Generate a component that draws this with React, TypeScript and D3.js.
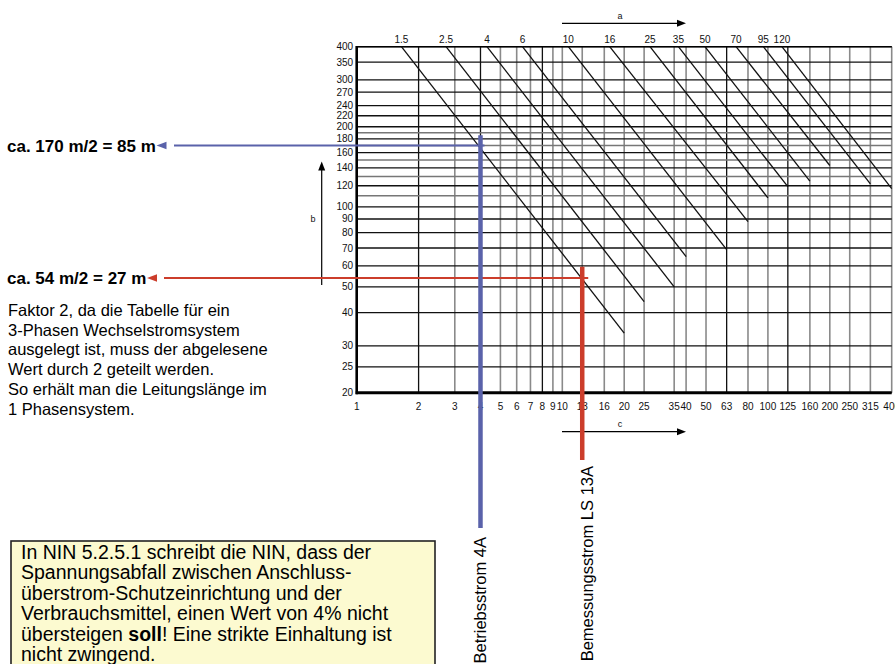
import React from "react";
import * as d3 from "d3";

// ---------- data ----------
// x axis: current (A), log scale
const xGridValues = [1, 2, 3, 4, 5, 6, 7, 8, 9, 10, 12.5, 16, 20, 25, 35, 40, 50, 63, 80, 100, 125, 160, 200, 250, 315, 400];
const xTickLabels = ["1", "2", "3", "4", "5", "6", "7", "8", "9", "10", "13", "16", "20", "25", "35", "40", "50", "63", "80", "100", "125", "160", "200", "250", "315", "400"];
const xDarkLines = [2, 4, 8, 63, 125];
// y axis: length (m), log scale
const yGridValues = [400, 350, 300, 270, 240, 220, 200, 190, 180, 170, 160, 150, 140, 130, 120, 110, 100, 90, 80, 70, 60, 50, 40, 30, 25, 20];
const yTickLabels = [400, 350, 300, 270, 240, 220, 200, 180, 160, 140, 120, 100, 90, 80, 70, 60, 50, 40, 30, 25, 20];
// cross sections (mm²) and their diagonal lines
const crossSections = ["1.5", "2.5", "4", "6", "10", "16", "25", "35", "50", "70", "95", "120"];
const lineStartCurrent = [1.65, 2.72, 4.3, 6.4, 10.7, 17, 26.7, 36.7, 49.4, 70, 95, 117];
const lineStartLength = [400, 400, 400, 400, 400, 400, 400, 400, 400, 400, 400, 400];
const lineEndCurrent = [20, 25, 35, 40, 63, 80, 100, 125, 160, 200, 315, 400];
const lineEndLength = [33.5, 44, 50, 65, 69, 88, 108, 119, 125, 143, 122, 117];
// reading example
const operatingCurrent = 4;
const operatingLength = 170;
const operatingTop = 186;
const ratedCurrent = 12.5;
const ratedLength = 54;
const ratedTop = 59.5;

const paragraph = [
  "Faktor 2, da die Tabelle für ein",
  "3-Phasen Wechselstromsystem",
  "ausgelegt ist, muss der abgelesene",
  "Wert durch 2 geteilt werden.",
  "So erhält man die Leitungslänge im",
  "1 Phasensystem.",
];
const boxLines = [
  "In NIN 5.2.5.1 schreibt die NIN, dass der",
  "Spannungsabfall zwischen Anschluss-",
  "überstrom-Schutzeinrichtung und der",
  "Verbrauchsmittel, einen Wert von 4% nicht",
  "übersteigen |soll|! Eine strikte Einhaltung ist",
  "nicht zwingend.",
];

const W = 895;
const H = 664;
const FONT = "'Liberation Sans', Arial, Helvetica, sans-serif";
const BLUE = "#5a62aa";
const RED = "#cc3d2b";
const GRAY = "#8a8a8a";

function arrowHead(tx: number, ty: number, dir: "left" | "right" | "up", len = 9, half = 3.5) {
  if (dir === "left") return `M${tx},${ty}L${tx + len},${ty - half}L${tx + len},${ty + half}Z`;
  if (dir === "right") return `M${tx},${ty}L${tx - len},${ty - half}L${tx - len},${ty + half}Z`;
  return `M${tx},${ty}L${tx - half},${ty + len}L${tx + half},${ty + len}Z`;
}

export default function App() {
  const x = d3.scaleLog().domain([1, 400]).range([356.7, 891.7]);
  const y = d3.scaleLog().domain([20, 400]).range([392.7, 46.7]);
  const [x0, x1] = x.range();
  const [yb, yt] = y.range();
  const line = d3.line<[number, number]>().x((d) => x(d[0])).y((d) => y(d[1]));

  const grayX = xGridValues.filter((v) => v !== 1 && !xDarkLines.includes(v));
  const darkX = xGridValues.filter((v) => xDarkLines.includes(v));
  const labelledY = new Set(yTickLabels);

  const bx = x(operatingCurrent);
  const rx = x(ratedCurrent);
  const by = y(operatingLength);
  const ry = y(ratedLength);

  return (
    <svg
      width={W}
      height={H}
      viewBox={`0 0 ${W} ${H}`}
      style={{ position: "absolute", left: 0, top: 0, background: "#fff" }}
      fontFamily={FONT}
    >
      <rect x={0} y={0} width={W} height={H} fill="#fff" />
      {/* vertical grid */}
      {grayX.map((v) => (
        <line key={"gx" + v} x1={x(v)} x2={x(v)} y1={yt} y2={yb} stroke={GRAY} strokeWidth={1.6} />
      ))}
      {darkX.map((v) => (
        <line key={"dx" + v} x1={x(v)} x2={x(v)} y1={yt} y2={yb} stroke="#111" strokeWidth={1.3} />
      ))}
      {/* horizontal grid */}
      {yGridValues.map((v) => (
        <line
          key={"gy" + v}
          x1={x0}
          x2={x1}
          y1={y(v)}
          y2={y(v)}
          stroke={labelledY.has(v) ? "#111" : "#777"}
          strokeWidth={labelledY.has(v) ? 1.3 : 1.4}
        />
      ))}
      {/* frame */}
      <line x1={x0} x2={x0} y1={yt - 0.7} y2={yb + 1.5} stroke="#000" strokeWidth={2.6} />
      <line x1={x0} x2={x1} y1={yt} y2={yt} stroke="#000" strokeWidth={1.5} />
      <line x1={x0 - 1} x2={x1} y1={yb} y2={yb} stroke="#000" strokeWidth={3} />

      {/* diagonal cross-section lines */}
      {crossSections.map((cs, i) => (
        <path
          key={"d" + cs}
          d={line([
            [lineStartCurrent[i], lineStartLength[i]],
            [lineEndCurrent[i], lineEndLength[i]],
          ]) || ""}
          fill="none"
          stroke="#111"
          strokeWidth={1.3}
        />
      ))}
      {crossSections.map((cs, i) => (
        <text key={"cl" + cs} x={x(lineStartCurrent[i])} y={y(lineStartLength[i]) - 4} fontSize={10} textAnchor="middle" fill="#111">
          {cs}
        </text>
      ))}

      {/* y tick labels */}
      {yTickLabels.map((v) => (
        <text key={"yl" + v} x={x0 - 3.5} y={y(v)} dy="0.35em" fontSize={10} textAnchor="end" fill="#111">
          {v}
        </text>
      ))}
      {/* x tick labels */}
      {xGridValues.map((v, i) => (
        <text key={"xl" + v} x={x(v)} y={yb + 17} fontSize={10} textAnchor="middle" fill="#111">
          {xTickLabels[i]}
        </text>
      ))}

      {/* axis name arrows */}
      <line x1={562} x2={680} y1={23.3} y2={23.3} stroke="#000" strokeWidth={1.2} />
      <path d={arrowHead(686, 23.3, "right")} fill="#000" />
      <text x={620} y={19} fontSize={9} textAnchor="middle" fill="#111">a</text>

      <line x1={562} x2={680} y1={431.7} y2={431.7} stroke="#000" strokeWidth={1.2} />
      <path d={arrowHead(686, 431.7, "right")} fill="#000" />
      <text x={620} y={427} fontSize={9} textAnchor="middle" fill="#111">c</text>

      <line x1={321.7} x2={321.7} y1={285} y2={168} stroke="#000" strokeWidth={1.2} />
      <path d={arrowHead(321.7, 161.5, "up")} fill="#000" />
      <text x={313} y={222} fontSize={9} textAnchor="middle" fill="#111">b</text>

      {/* red annotation */}
      <line x1={rx} x2={rx} y1={y(ratedTop)} y2={460} stroke={RED} strokeWidth={4.5} />
      <line x1={164} x2={rx + 6} y1={ry} y2={ry} stroke={RED} strokeWidth={2} />
      <path d={arrowHead(147, ry, "left", 10, 3.8)} fill={RED} />
      {/* blue annotation */}
      <line x1={bx} x2={bx} y1={y(operatingTop)} y2={528} stroke={BLUE} strokeWidth={4.5} />
      <line x1={174} x2={bx + 4} y1={by} y2={by} stroke={BLUE} strokeWidth={2} />
      <path d={arrowHead(156.5, by, "left", 10, 3.8)} fill={BLUE} />

      <text x={7} y={by + 6} fontSize={17} fontWeight="bold" fill="#000">ca. 170 m/2 = 85 m</text>
      <text x={7} y={ry + 6} fontSize={17} fontWeight="bold" fill="#000">ca. 54 m/2 = 27 m</text>

      {paragraph.map((t, i) => (
        <text key={"p" + i} x={8} y={316 + i * 19.7} fontSize={16.5} fill="#000">
          {t}
        </text>
      ))}

      {/* rotated labels */}
      <text transform={`translate(${bx + 6},537) rotate(-90)`} fontSize={16.5} textAnchor="end" fill="#000">
        Betriebsstrom 4A
      </text>
      <text transform={`translate(${rx + 11},466) rotate(-90)`} fontSize={16.5} textAnchor="end" fill="#000">
        Bemessungsstrom LS 13A
      </text>

      {/* note box */}
      <rect x={11} y={541} width={424} height={150} fill="#fcfad0" stroke="#222" strokeWidth={1.6} />
      {boxLines.map((t, i) => {
        const parts = t.split("|");
        return (
          <text key={"b" + i} x={21} y={559 + i * 20.4} fontSize={19.5} fill="#000">
            {parts.map((p, j) => (
              <tspan key={j} fontWeight={j % 2 === 1 ? "bold" : "normal"}>
                {p}
              </tspan>
            ))}
          </text>
        );
      })}
    </svg>
  );
}
